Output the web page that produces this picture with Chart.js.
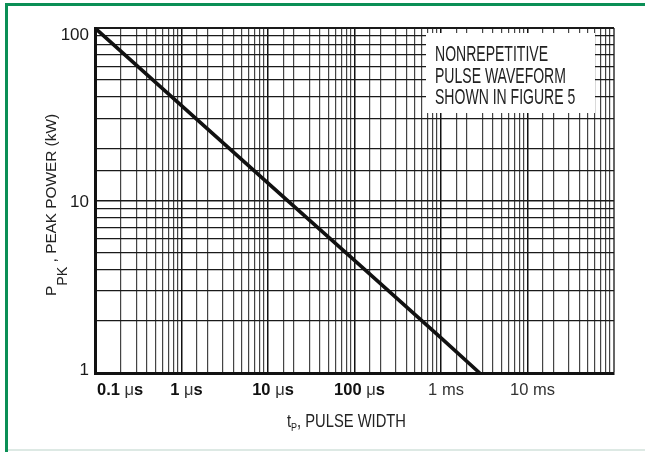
<!DOCTYPE html>
<html>
<head>
<meta charset="utf-8">
<script src="https://cdn.jsdelivr.net/npm/chart.js@4.4.1/dist/chart.umd.min.js"></script>
<style>
  html, body { margin: 0; padding: 0; background: #fff; }
  #c { display: block; }
</style>
</head>
<body>
<canvas id="c" width="645" height="452"></canvas>
<script>
// ---- data (pulse width in microseconds, peak power in kW) ----
const pulseWidthUs = [0.1, 1, 10, 100, 1000, 2800];
const peakPowerKw  = [100, 35.5, 12.6, 4.5, 1.6, 1];

const xTickValues = [0.1, 1, 10, 100, 1000, 10000];
const xTickLabels = ['0.1 μs', '1 μs', '10 μs', '100 μs', '1 ms', '10 ms'];
const yTickValues = [1, 10, 100];
const yTickLabels = ['1', '10', '100'];

const noteLines = ['NONREPETITIVE', 'PULSE WAVEFORM', 'SHOWN IN FIGURE 5'];
const xTitle = ['t', 'P', ', PULSE WIDTH'];
const yTitle = ['P', 'PK', ' , PEAK POWER (kW)'];

const FONT = '"Liberation Sans", Arial, Helvetica, sans-serif';

function isDecade(v) {
  const l = Math.log10(v);
  return Math.abs(l - Math.round(l)) < 1e-9;
}

const decor = {
  id: 'decor',
  beforeDraw(chart) {
    const ctx = chart.ctx;
    ctx.save();
    ctx.fillStyle = '#fff';
    ctx.fillRect(0, 0, chart.width, chart.height);
    // green frame
    ctx.fillStyle = '#0b8f56';
    ctx.fillRect(5, 3, 3, chart.height - 3);
    ctx.fillRect(5, 3, chart.width - 5, 3);
    ctx.fillStyle = '#dde9e4';
    ctx.fillRect(8, 449, chart.width - 8, 2);
    ctx.restore();
  },
  afterDraw(chart) {
    const ctx = chart.ctx;
    const xs = chart.scales.x, ys = chart.scales.y;
    const area = chart.chartArea;
    ctx.save();

    // note box
    ctx.fillStyle = '#fff';
    ctx.fillRect(426, 33, 169, 80);
    ctx.fillStyle = '#222';
    ctx.textBaseline = 'alphabetic';
    ctx.textAlign = 'left';
    ctx.font = '22px ' + FONT;
    const w0 = ctx.measureText(noteLines[0]).width;
    const sx = 113 / w0;
    const baselines = [61, 83, 104];
    noteLines.forEach((t, i) => {
      ctx.save();
      ctx.translate(435, baselines[i]);
      ctx.scale(sx, 1);
      ctx.fillText(t, 0, 0);
      ctx.restore();
    });

    // y tick labels
    ctx.font = '17px ' + FONT;
    ctx.textAlign = 'right';
    ctx.fillStyle = '#1a1a1a';
    const yShift = {1: -4, 10: 0, 100: 6};
    yTickValues.forEach((v, i) => {
      const py = ys.getPixelForValue(v);
      ctx.fillText(yTickLabels[i], 89, py + 6 + yShift[v]);
    });

    // x tick labels
    ctx.textAlign = 'left';
    xTickValues.forEach((v, i) => {
      const label = xTickLabels[i];
      const px = xs.getPixelForValue(v);
      const isUs = label.indexOf('μ') >= 0;
      const parts = isUs
        ? [[label.split(' ')[0] + ' ', 'bold'], ['μ', 'normal'], ['s', 'bold']]
        : [[label, 'normal']];
      let total = 0;
      parts.forEach(p => { ctx.font = p[1] + ' 16.5px ' + FONT; total += ctx.measureText(p[0]).width; });
      let x0 = (i === 0) ? area.left + 2 : px + 5 - total / 2;
      parts.forEach(p => {
        ctx.font = p[1] + ' 16.5px ' + FONT;
        ctx.fillStyle = p[1] === 'bold' ? '#111' : '#333';
        ctx.fillText(p[0], x0, 395);
        x0 += ctx.measureText(p[0]).width;
      });
    });

    // x title
    ctx.fillStyle = '#222';
    {
      const segs = [[xTitle[0], 18, 0], [xTitle[1], 11, 4], [xTitle[2], 18, 0]];
      let tot = 0;
      segs.forEach(s => { ctx.font = s[1] + 'px ' + FONT; tot += ctx.measureText(s[0]).width; });
      const sc = 119 / tot;
      ctx.save();
      ctx.translate(287, 427);
      ctx.scale(sc, 1);
      let x = 0;
      segs.forEach(s => {
        ctx.font = s[1] + 'px ' + FONT;
        ctx.fillText(s[0], x, s[2]);
        x += ctx.measureText(s[0]).width;
      });
      ctx.restore();
    }

    // y title (rotated)
    {
      const segs = [[yTitle[0], 15, 0], [yTitle[1], 14, 11], [yTitle[2], 15, 0]];
      let tot = 0;
      segs.forEach(s => { ctx.font = s[1] + 'px ' + FONT; tot += ctx.measureText(s[0]).width; });
      const sc = 182 / tot;
      ctx.save();
      ctx.translate(56, 296);
      ctx.rotate(-Math.PI / 2);
      ctx.scale(sc, 1);
      let x = 0;
      segs.forEach(s => {
        ctx.font = s[1] + 'px ' + FONT;
        ctx.fillText(s[0], x, s[2]);
        x += ctx.measureText(s[0]).width;
      });
      ctx.restore();
    }
    ctx.restore();
  }
};

new Chart(document.getElementById('c'), {
  type: 'scatter',
  data: {
    datasets: [{
      data: pulseWidthUs.map((x, i) => ({ x: x, y: peakPowerKw[i] })),
      showLine: true,
      borderColor: '#111',
      borderWidth: 3.6,
      pointRadius: 0,
      tension: 0
    }]
  },
  options: {
    responsive: false,
    animation: false,
    devicePixelRatio: 1,
    layout: { padding: { left: 0, top: 28, right: 31, bottom: 0 } },
    plugins: { legend: { display: false }, tooltip: { enabled: false } },
    scales: {
      x: {
        type: 'logarithmic',
        min: 0.1,
        max: 100000,
        afterFit: s => { s.height = 79; },
        ticks: { display: false },
        border: { display: true, width: 3, color: '#111' },
        grid: {
          drawTicks: false,
          color: ctx => {
            const v = ctx.tick && ctx.tick.value;
            if (v >= 100000) return '#666';
            return isDecade(v) ? '#111' : '#444';
          },
          lineWidth: ctx => {
            const v = ctx.tick && ctx.tick.value;
            if (v >= 100000) return 2;
            return isDecade(v) ? 1.5 : 1.2;
          }
        }
      },
      y: {
        type: 'logarithmic',
        min: 1,
        max: 100,
        afterFit: s => { s.width = 95; },
        ticks: { display: false },
        border: { display: true, width: 3, color: '#111' },
        grid: {
          drawTicks: false,
          color: '#1a1a1a',
          lineWidth: ctx => {
            const v = ctx.tick && ctx.tick.value;
            if (v >= 100) return 2;
            return isDecade(v) ? 1.5 : 1.2;
          }
        }
      }
    }
  },
  plugins: [decor]
});
</script>
</body>
</html>
